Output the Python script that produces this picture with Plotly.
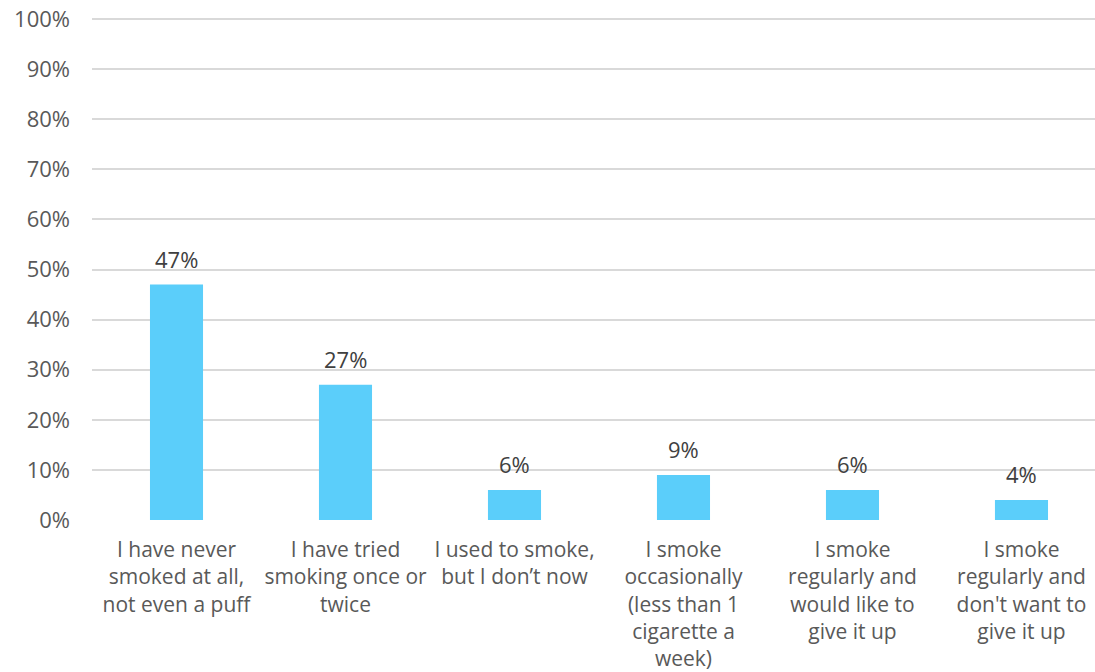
import plotly.graph_objects as go

categories = [
    "I have never<br>smoked at all,<br>not even a puff",
    "I have tried<br>smoking once or<br>twice",
    "I used to smoke,<br>but I don\u2019t now",
    "I smoke<br>occasionally<br>(less than 1<br>cigarette a<br>week)",
    "I smoke<br>regularly and<br>would like to<br>give it up",
    "I smoke<br>regularly and<br>don't want to<br>give it up",
]
values = [0.47, 0.27, 0.06, 0.09, 0.06, 0.04]
value_labels = ["47%", "27%", "6%", "9%", "6%", "4%"]
y_ticks = [0, 0.1, 0.2, 0.3, 0.4, 0.5, 0.6, 0.7, 0.8, 0.9, 1.0]
y_tick_labels = ["0%", "10%", "20%", "30%", "40%", "50%", "60%", "70%", "80%", "90%", "100%"]

FONT = "Open Sans, Roboto, Arial, sans-serif"

fig = go.Figure(
    go.Bar(
        x=list(range(len(categories))),
        y=values,
        marker=dict(color="#5BCEFA", line=dict(width=0)),
        width=0.314,
    )
)

for i, (v, lab) in enumerate(zip(values, value_labels)):
    fig.add_annotation(
        x=i, y=v, text=lab, showarrow=False,
        yanchor="bottom", yshift=9,
        font=dict(family=FONT, size=22, color="#404040"),
    )

fig.update_layout(
    width=1095,
    height=672,
    margin=dict(l=92, r=0, t=17, b=152),
    paper_bgcolor="white",
    plot_bgcolor="white",
    showlegend=False,
    font=dict(family=FONT, size=20, color="#595959"),
    xaxis=dict(
        range=[-0.5, 5.435],
        tickvals=list(range(len(categories))),
        ticktext=categories,
        showgrid=False,
        showline=False,
        zeroline=False,
        ticks="",
        tickangle=0,
        ticklabelstandoff=15,
        tickfont=dict(family=FONT, size=21, color="#595959"),
    ),
    yaxis=dict(
        range=[0, 1.004],
        tickvals=y_ticks,
        ticktext=y_tick_labels,
        showgrid=True,
        gridcolor="#d9d9d9",
        gridwidth=1.5,
        zeroline=False,
        showline=False,
        ticks="",
        ticklabelstandoff=21,
        tickfont=dict(family=FONT, size=22, color="#595959"),
    ),
)

fig.write_html("out.html")
